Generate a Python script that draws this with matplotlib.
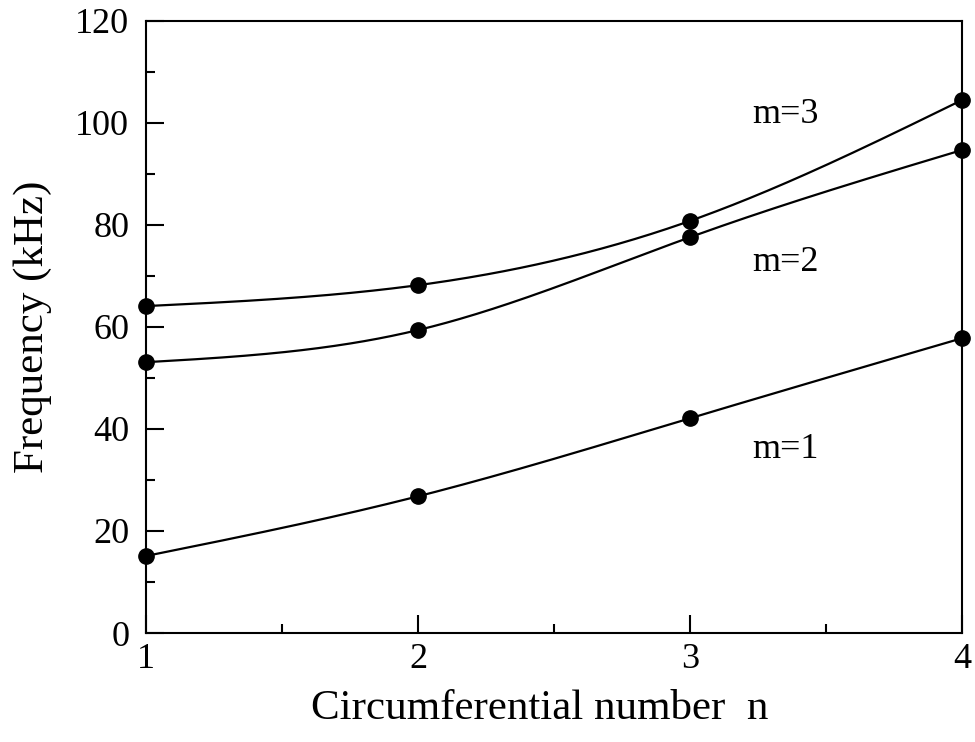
import numpy as np
import matplotlib.pyplot as plt
from matplotlib.ticker import MultipleLocator

n = [1, 2, 3, 4]
freq_m1 = [15.1, 26.8, 42.1, 57.8]
freq_m2 = [53.1, 59.4, 77.6, 94.7]
freq_m3 = [64.1, 68.2, 80.8, 104.5]
mode_labels = ["m=1", "m=2", "m=3"]


def natural_spline(x, y, xs):
    # natural cubic spline through the points
    x = np.asarray(x, float)
    y = np.asarray(y, float)
    k = len(x)
    h = np.diff(x)
    A = np.zeros((k, k))
    b = np.zeros(k)
    A[0, 0] = A[-1, -1] = 1
    for i in range(1, k - 1):
        A[i, i - 1] = h[i - 1]
        A[i, i] = 2 * (h[i - 1] + h[i])
        A[i, i + 1] = h[i]
        b[i] = 3 * ((y[i + 1] - y[i]) / h[i] - (y[i] - y[i - 1]) / h[i - 1])
    c = np.linalg.solve(A, b)
    out = np.empty_like(xs)
    for j, t in enumerate(xs):
        i = min(np.searchsorted(x, t, side="right") - 1, k - 2)
        i = max(i, 0)
        d = (c[i + 1] - c[i]) / (3 * h[i])
        bb = (y[i + 1] - y[i]) / h[i] - h[i] * (2 * c[i] + c[i + 1]) / 3
        dx = t - x[i]
        out[j] = y[i] + bb * dx + c[i] * dx**2 + d * dx**3
    return out


plt.rcParams["font.family"] = ["Liberation Serif", "DejaVu Serif"]

fig = plt.figure(figsize=(9.75, 7.42), dpi=100)
ax = fig.add_axes([0.1497, 0.1469, 0.837, 0.8248])

xs = np.linspace(1, 4, 300)
for vals in (freq_m1, freq_m2, freq_m3):
    ax.plot(xs, natural_spline(n, vals, xs), color="black", lw=1.6, zorder=2)
    ax.plot(n, vals, "o", color="black", ms=11, clip_on=False, zorder=3)

ax.text(3.23, 35.9, mode_labels[0], fontsize=26, va="center")
ax.text(3.23, 72.7, mode_labels[1], fontsize=26, va="center")
ax.text(3.23, 101.6, mode_labels[2], fontsize=26, va="center")

ax.set_xlim(1, 4)
ax.set_ylim(0, 120)
ax.xaxis.set_major_locator(MultipleLocator(1))
ax.xaxis.set_minor_locator(MultipleLocator(0.5))
ax.yaxis.set_major_locator(MultipleLocator(20))
ax.yaxis.set_minor_locator(MultipleLocator(10))
ax.tick_params(which="both", direction="in", width=1.5, labelsize=26)
ax.tick_params(which="major", length=13)
ax.tick_params(which="minor", length=6.5)
ax.tick_params(axis="x", pad=7)
ax.tick_params(axis="y", pad=12)
for s in ax.spines.values():
    s.set_linewidth(1.5)

ax.set_xlabel("Circumferential number  n", fontsize=31)
ax.xaxis.set_label_coords(0.482, -0.093)
ax.set_ylabel("Frequency (kHz)", fontsize=31)
ax.yaxis.set_label_coords(-0.115, 0.5)

plt.savefig("out.png", dpi=100)
